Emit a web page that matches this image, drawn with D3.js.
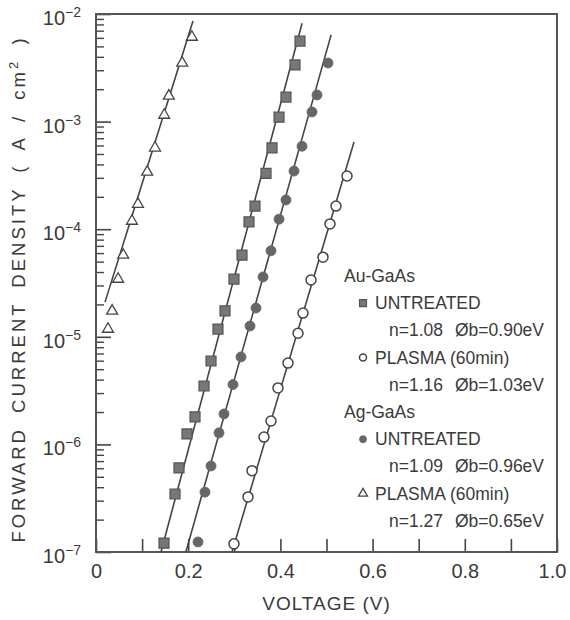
<!doctype html>
<html>
<head>
<meta charset="utf-8">
<title>Forward current density vs voltage</title>
<style>
  body { margin: 0; background: #fff; }
  svg text { fill: #3a3a3a; font-family: "Liberation Sans", Arimo, sans-serif; }
</style>
</head>
<body>
<svg width="570" height="620"></svg>
<script src="https://d3js.org/d3.v7.min.js"></script>
<script>
// Au-GaAs, untreated (filled squares)
var auUntreatedV = [0.4425, 0.4317, 0.4121, 0.3970, 0.3818, 0.3688, 0.3449, 0.3319, 0.3167, 0.2993,
                    0.2798, 0.2646, 0.2495, 0.2343, 0.2148, 0.1974, 0.1800, 0.1714, 0.1475];
var auUntreatedJ = [5.6e-3, 3.36e-3, 1.69e-3, 1.10e-3, 5.7e-4, 3.3e-4, 1.64e-4, 1.17e-4, 5.75e-5, 3.44e-5,
                    1.74e-5, 1.18e-5, 5.96e-6, 3.49e-6, 1.80e-6, 1.25e-6, 6.04e-7, 3.46e-7, 1.21e-7];

// Au-GaAs, plasma 60 min (open circles)
var auPlasmaV = [0.5445, 0.5206, 0.5076, 0.4924, 0.4664, 0.4490, 0.4382, 0.4165, 0.3948, 0.3796,
                 0.3644, 0.3384, 0.3297, 0.2993];
var auPlasmaJ = [3.12e-4, 1.64e-4, 1.12e-4, 5.5e-5, 3.37e-5, 1.66e-5, 1.08e-5, 5.7e-6, 3.35e-6, 1.65e-6,
                 1.17e-6, 5.7e-7, 3.25e-7, 1.19e-7];

// Ag-GaAs, untreated (filled circles)
var agUntreatedV = [0.5033, 0.4794, 0.4685, 0.4469, 0.4295, 0.4121, 0.3970, 0.3796, 0.3623, 0.3471,
                    0.3341, 0.3145, 0.2972, 0.2777, 0.2668, 0.2495, 0.2364, 0.2213];
var agUntreatedJ = [3.5e-3, 1.77e-3, 1.23e-3, 5.9e-4, 3.47e-4, 1.87e-4, 1.24e-4, 6.3e-5, 3.6e-5, 1.85e-5,
                    1.26e-5, 6.5e-6, 3.6e-6, 1.92e-6, 1.28e-6, 6.3e-7, 3.6e-7, 1.24e-7];

// Ag-GaAs, plasma 60 min (open triangles)
var agPlasmaV = [0.208, 0.187, 0.158, 0.148, 0.128, 0.111, 0.091, 0.078, 0.059, 0.048, 0.035, 0.026];
var agPlasmaJ = [6.1e-3, 3.5e-3, 1.73e-3, 1.15e-3, 5.7e-4, 3.4e-4, 1.71e-4, 1.19e-4, 5.75e-5, 3.44e-5,
                 1.74e-5, 1.18e-5];

// fitted lines, two end points each
var fitAuUntreatedV = [0.141, 0.447], fitAuUntreatedJ = [1.0e-7, 8.2e-3];
var fitAuPlasmaV = [0.295, 0.5597], fitAuPlasmaJ = [1.0e-7, 6.46e-4];
var fitAgUntreatedV = [0.195, 0.510], fitAgUntreatedJ = [1.0e-7, 6.4e-3];
var fitAgPlasmaV = [0.0195, 0.2104], fitAgPlasmaJ = [2.1e-5, 8.6e-3];

// axis ticks
var xTicks = [0, 0.1, 0.2, 0.3, 0.4, 0.5, 0.6, 0.7, 0.8, 0.9, 1.0];
var xTickLabels = ["0", "", "0.2", "", "0.4", "", "0.6", "", "0.8", "", "1.0"];
var yDecades = [1e-7, 1e-6, 1e-5, 1e-4, 1e-3, 1e-2];
var yDecadeExps = ["\u22127", "\u22126", "\u22125", "\u22124", "\u22123", "\u22122"];

// legend
var legendGroups = ["Au-GaAs", "Ag-GaAs"];
var legendSeries = ["UNTREATED", "PLASMA (60min)", "UNTREATED", "PLASMA (60min)"];
var legendN = ["1.08", "1.16", "1.09", "1.27"];
var legendPhi = ["0.90", "1.03", "0.96", "0.65"];

var ink = "#444";
var svg = d3.select("svg");
var plotL = 96, plotR = 557, plotT = 14, plotB = 552;

var x = d3.scaleLinear().domain([0, 1]).range([plotL, plotR]);
var y = d3.scaleLog().domain([1e-7, 1e-2]).range([plotB, plotT]);

// x axis ticks pointing inward
var gx = svg.append("g")
   .attr("transform", "translate(0," + plotB + ")")
   .call(d3.axisBottom(x).tickValues(xTicks).tickSize(-13).tickPadding(12)
      .tickFormat(function(d, i) { return xTickLabels[i]; }));
gx.select(".domain").remove();
gx.selectAll("line").attr("stroke", ink).attr("stroke-width", 1.6);
gx.selectAll("text").attr("font-size", 20).style("fill", "#3a3a3a")
   .attr("dx", function(d, i) { return i == xTicks.length - 1 ? -5 : 0; });
gx.attr("font-family", null);

// y axis minor ticks
var minor = y.ticks().filter(function(d) { return Math.abs(Math.log10(d) - Math.round(Math.log10(d))) > 1e-6; });
var gyMinor = svg.append("g")
   .attr("transform", "translate(" + plotL + ",0)")
   .call(d3.axisLeft(y).tickValues(minor).tickSize(-8).tickFormat(""));
gyMinor.select(".domain").remove();
gyMinor.selectAll("line").attr("stroke", ink).attr("stroke-width", 1.4);

// y axis major ticks
var gyMajor = svg.append("g")
   .attr("transform", "translate(" + plotL + ",0)")
   .call(d3.axisLeft(y).tickValues(yDecades).tickSize(-15).tickFormat(""));
gyMajor.select(".domain").remove();
gyMajor.selectAll("line").attr("stroke", ink).attr("stroke-width", 1.6);

// decade labels with superscripts
var yl = svg.append("g").selectAll("text")
   .data(yDecades)
   .enter()
      .append("text")
         .attr("x", 81)
         .attr("y", function(d) { return y(d) + 11; })
         .attr("text-anchor", "end")
         .attr("font-size", 20);
yl.append("tspan").text("10");
yl.append("tspan")
   .attr("dy", -8)
   .attr("font-size", 14)
   .text(function(d, i) { return yDecadeExps[i]; });

// frame
svg.append("rect")
   .attr("x", plotL).attr("y", plotT)
   .attr("width", plotR - plotL).attr("height", plotB - plotT)
   .attr("fill", "none").attr("stroke", "#555").attr("stroke-width", 2);

// fit lines
var line = d3.line().x(function(d) { return x(d[0]); }).y(function(d) { return y(d[1]); });
[[fitAuUntreatedV, fitAuUntreatedJ], [fitAuPlasmaV, fitAuPlasmaJ],
 [fitAgUntreatedV, fitAgUntreatedJ], [fitAgPlasmaV, fitAgPlasmaJ]].forEach(function(f) {
   svg.append("path")
      .attr("d", line(d3.zip(f[0], f[1])))
      .attr("fill", "none").attr("stroke", ink).attr("stroke-width", 1.6);
});

function styleMark(sel, kind, size) {
   if (kind == "square") {
      sel.attr("d", d3.symbol().type(d3.symbolSquare).size(size * size)())
         .attr("fill", "#777").attr("stroke", "#555").attr("stroke-width", 1.2);
   } else if (kind == "dot") {
      sel.attr("d", d3.symbol().type(d3.symbolCircle).size(Math.PI * size * size / 4)())
         .attr("fill", "#666").attr("stroke", "#666").attr("stroke-width", 0.8);
   } else if (kind == "ring") {
      sel.attr("d", d3.symbol().type(d3.symbolCircle).size(Math.PI * size * size / 4)())
         .attr("fill", "#fff").attr("stroke", ink).attr("stroke-width", 1.5);
   } else {
      sel.attr("d", d3.symbol().type(d3.symbolTriangle).size(size * size * 0.43)())
         .attr("fill", "#fff").attr("stroke", ink).attr("stroke-width", 1.3);
   }
}

function drawMarks(vs, js, kind, size) {
   var g = svg.append("g").selectAll("path")
      .data(d3.zip(vs, js))
      .enter()
         .append("path")
            .attr("transform", function(d) { return "translate(" + x(d[0]) + "," + y(d[1]) + ")"; });
   styleMark(g, kind, size);
}

drawMarks(auUntreatedV, auUntreatedJ, "square", 10);
drawMarks(auPlasmaV, auPlasmaJ, "ring", 10);
drawMarks(agUntreatedV, agUntreatedJ, "dot", 10);
drawMarks(agPlasmaV, agPlasmaJ, "tri", 11);

// legend
var kinds = ["square", "ring", "dot", "tri"];
var lg = svg.append("g").attr("font-size", 17.5);
var rowH = 27.2, row0 = 276;
legendGroups.forEach(function(name, gi) {
   var r = gi * 5;
   lg.append("text").attr("x", 344).attr("y", row0 + r * rowH + 6).text(name);
   for (var k = 0; k < 2; ++k) {
      var si = gi * 2 + k;
      var cy = row0 + (r + 1 + k * 2) * rowH;
      var m = lg.append("path").attr("transform", "translate(363," + cy + ")");
      styleMark(m, kinds[si], kinds[si] == "tri" ? 9 : 7);
      lg.append("text").attr("x", 375).attr("y", cy + 6).text(legendSeries[si]);
      lg.append("text").attr("x", 389).attr("y", cy + rowH + 6).text("n=" + legendN[si]);
      lg.append("text").attr("x", 455).attr("y", cy + rowH + 6).text("\u00d8b=" + legendPhi[si] + "eV");
   }
});

// axis titles
svg.append("text")
   .attr("x", (plotL + plotR) / 2)
   .attr("y", 610)
   .attr("text-anchor", "middle")
   .attr("font-size", 19)
   .attr("letter-spacing", 1)
   .text("VOLTAGE (V)");

var yt = svg.append("text")
   .attr("transform", "translate(25,289) rotate(-90)")
   .attr("text-anchor", "middle")
   .attr("font-size", 18.5)
   .attr("letter-spacing", 3)
   .attr("word-spacing", 6);
yt.append("tspan").text("FORWARD CURRENT DENSITY ( A / cm");
yt.append("tspan").attr("dy", -7).attr("font-size", 13).text("2");
yt.append("tspan").attr("dy", 7).text(" )");
</script>
</body>
</html>
